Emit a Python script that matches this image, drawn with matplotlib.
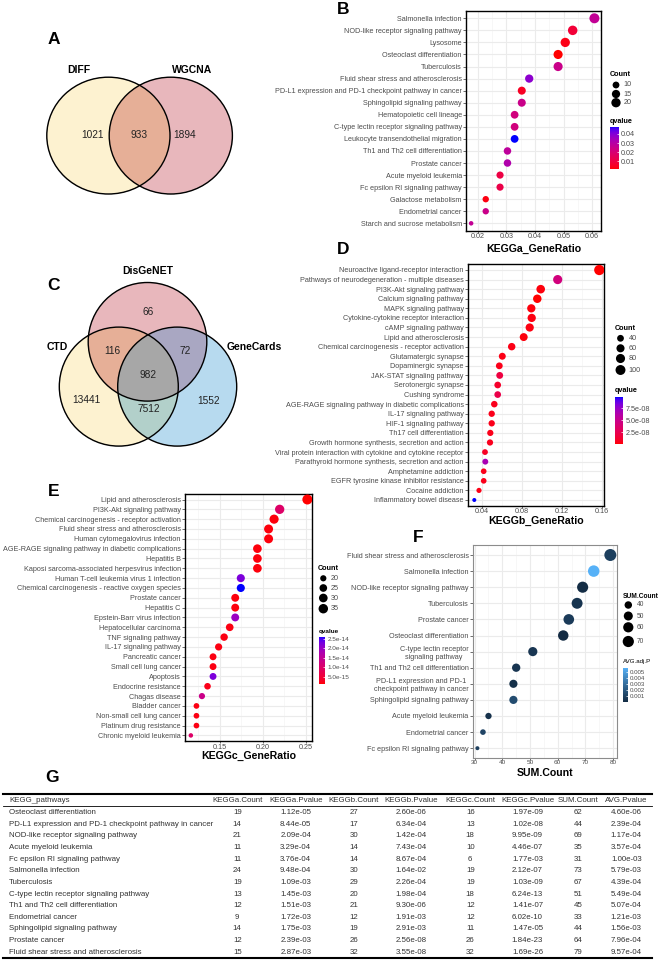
import numpy as np
import matplotlib
matplotlib.use('Agg')
import matplotlib.pyplot as plt
from matplotlib.colors import ListedColormap, Normalize, to_rgb, to_rgba
from matplotlib.cm import ScalarMappable
from matplotlib.patches import Ellipse

plt.rcParams['font.family'] = ['Liberation Sans', 'DejaVu Sans']

W, H = 664, 960

# ---- A: venn DIFF / WGCNA
venn_a_sets = ['DIFF', 'WGCNA']
venn_a_counts = [1021, 933, 1894]          # DIFF only, both, WGCNA only

# ---- C: venn DisGeNET / CTD / GeneCards
venn_c_sets = ['DisGeNET', 'CTD', 'GeneCards']
venn_c_counts = [66, 116, 72, 982, 13441, 7512, 1552]  # D, D&C, D&G, all, C, C&G, G

# ---- B: KEGGa
b_terms = ['Salmonella infection', 'NOD-like receptor signaling pathway', 'Lysosome',
           'Osteoclast differentiation', 'Tuberculosis', 'Fluid shear stress and atherosclerosis',
           'PD-L1 expression and PD-1 checkpoint pathway in cancer', 'Sphingolipid signaling pathway',
           'Hematopoietic cell lineage', 'C-type lectin receptor signaling pathway',
           'Leukocyte transendothelial migration', 'Th1 and Th2 cell differentiation',
           'Prostate cancer', 'Acute myeloid leukemia', 'Fc epsilon RI signaling pathway',
           'Galactose metabolism', 'Endometrial cancer', 'Starch and sucrose metabolism']
b_ratio = [0.0608, 0.0532, 0.0506, 0.0481, 0.0481, 0.0380, 0.0354, 0.0354, 0.0329,
           0.0329, 0.0329, 0.0304, 0.0304, 0.0278, 0.0278, 0.0228, 0.0228, 0.0177]
b_count = [24, 21, 20, 19, 19, 15, 14, 14, 13, 13, 13, 12, 12, 11, 11, 9, 9, 7]
b_q = [0.0268, 0.0079, 0.0027, 0.0008, 0.0245, 0.0386, 0.0046, 0.0245, 0.0221,
       0.0221, 0.0481, 0.0282, 0.0315, 0.0103, 0.0112, 0.0022, 0.0245, 0.0268]

# ---- D: KEGGb
d_terms = ['Neuroactive ligand-receptor interaction', 'Pathways of neurodegeneration - multiple diseases',
           'PI3K-Akt signaling pathway', 'Calcium signaling pathway', 'MAPK signaling pathway',
           'Cytokine-cytokine receptor interaction', 'cAMP signaling pathway', 'Lipid and atherosclerosis',
           'Chemical carcinogenesis - receptor activation', 'Glutamatergic synapse', 'Dopaminergic synapse',
           'JAK-STAT signaling pathway', 'Serotonergic synapse', 'Cushing syndrome',
           'AGE-RAGE signaling pathway in diabetic complications', 'IL-17 signaling pathway',
           'HIF-1 signaling pathway', 'Th17 cell differentiation',
           'Growth hormone synthesis, secretion and action',
           'Viral protein interaction with cytokine and cytokine receptor',
           'Parathyroid hormone synthesis, secretion and action', 'Amphetamine addiction',
           'EGFR tyrosine kinase inhibitor resistance', 'Cocaine addiction', 'Inflammatory bowel disease']
d_ratio = [0.1576, 0.1160, 0.0990, 0.0956, 0.0896, 0.0900, 0.0880, 0.0820, 0.0700, 0.0606,
           0.0576, 0.0580, 0.0560, 0.0560, 0.0526, 0.0500, 0.0500, 0.0486, 0.0483, 0.0433,
           0.0436, 0.0420, 0.0420, 0.0373, 0.0326]
d_count = [110, 81, 69, 67, 63, 63, 62, 57, 49, 42, 40, 41, 39, 39, 37, 35, 35, 34, 34, 30,
           31, 29, 29, 26, 23]
d_q = [0.0, 4.4e-8, 0.2e-8, 0.0, 0.2e-8, 0.3e-8, 0.3e-8, 0.2e-8, 0.4e-8, 0.4e-8, 0.5e-8,
       1.8e-8, 1.0e-8, 2.2e-8, 0.6e-8, 0.5e-8, 0.5e-8, 0.5e-8, 0.6e-8, 0.8e-8, 6.7e-8,
       0.5e-8, 0.5e-8, 0.4e-8, 9.8e-8]

# ---- E: KEGGc
e_terms = ['Lipid and atherosclerosis', 'PI3K-Akt signaling pathway',
           'Chemical carcinogenesis - receptor activation', 'Fluid shear stress and atherosclerosis',
           'Human cytomegalovirus infection', 'AGE-RAGE signaling pathway in diabetic complications',
           'Hepatitis B', 'Kaposi sarcoma-associated herpesvirus infection',
           'Human T-cell leukemia virus 1 infection', 'Chemical carcinogenesis - reactive oxygen species',
           'Prostate cancer', 'Hepatitis C', 'Epstein-Barr virus infection', 'Hepatocellular carcinoma',
           'TNF signaling pathway', 'IL-17 signaling pathway', 'Pancreatic cancer',
           'Small cell lung cancer', 'Apoptosis', 'Endocrine resistance', 'Chagas disease',
           'Bladder cancer', 'Non-small cell lung cancer', 'Platinum drug resistance',
           'Chronic myeloid leukemia']
e_ratio = [0.2516, 0.2194, 0.2129, 0.2065, 0.2065, 0.1935, 0.1935, 0.1935, 0.1742, 0.1742,
           0.1677, 0.1677, 0.1677, 0.1613, 0.1548, 0.1484, 0.1419, 0.1419, 0.1419, 0.1355,
           0.1290, 0.1226, 0.1226, 0.1226, 0.1161]
e_count = [39, 34, 33, 32, 32, 30, 30, 30, 27, 27, 26, 26, 26, 25, 24, 23, 22, 22, 22, 21,
           20, 19, 19, 19, 18]
e_q = [1.0e-15, 9.8e-15, 1.5e-15, 1.5e-15, 1.5e-15, 1.5e-15, 1.5e-15, 1.5e-15, 2.24e-14,
       2.62e-14, 1.5e-15, 1.5e-15, 1.99e-14, 1.8e-15, 1.8e-15, 1.8e-15, 1.8e-15, 1.8e-15,
       2.24e-14, 2.2e-15, 1.36e-14, 1.8e-15, 1.8e-15, 1.8e-15, 9.8e-15]

# ---- F: combined
f_terms = ['Fluid shear stress and atherosclerosis', 'Salmonella infection',
           'NOD-like receptor signaling pathway', 'Tuberculosis', 'Prostate cancer',
           'Osteoclast differentiation', 'C-type lectin receptor\nsignaling pathway',
           'Th1 and Th2 cell differentiation', 'PD-L1 expression and PD-1\ncheckpoint pathway in cancer',
           'Sphingolipid signaling pathway', 'Acute myeloid leukemia', 'Endometrial cancer',
           'Fc epsilon RI signaling pathway']
f_sum = [79, 73, 69, 67, 64, 62, 51, 45, 44, 44, 35, 33, 31]
f_avgp = [9.57e-4, 5.79e-3, 1.17e-4, 4.39e-4, 7.96e-4, 4.60e-6, 5.49e-4, 5.07e-4, 2.39e-4,
          1.56e-3, 3.57e-4, 1.21e-3, 1.00e-3]

# ---- G: table
g_headers = ['KEGG_pathways', 'KEGGa.Count', 'KEGGa.Pvalue', 'KEGGb.Count', 'KEGGb.Pvalue',
             'KEGGc.Count', 'KEGGc.Pvalue', 'SUM.Count', 'AVG.Pvalue']
g_pathways = ['Osteoclast differentiation', 'PD-L1 expression and PD-1 checkpoint pathway in cancer',
              'NOD-like receptor signaling pathway', 'Acute myeloid leukemia',
              'Fc epsilon RI signaling pathway', 'Salmonella infection', 'Tuberculosis',
              'C-type lectin receptor signaling pathway', 'Th1 and Th2 cell differentiation',
              'Endometrial cancer', 'Sphingolipid signaling pathway', 'Prostate cancer',
              'Fluid shear stress and atherosclerosis']
g_a_count = [19, 14, 21, 11, 11, 24, 19, 13, 12, 9, 14, 12, 15]
g_a_p = [1.12e-05, 8.44e-05, 2.09e-04, 3.29e-04, 3.76e-04, 9.48e-04, 1.09e-03, 1.45e-03,
         1.51e-03, 1.72e-03, 1.75e-03, 2.39e-03, 2.87e-03]
g_b_count = [27, 17, 30, 14, 14, 30, 29, 20, 21, 12, 19, 26, 32]
g_b_p = [2.60e-06, 6.34e-04, 1.42e-04, 7.43e-04, 8.67e-04, 1.64e-02, 2.26e-04, 1.98e-04,
         9.30e-06, 1.91e-03, 2.91e-03, 2.56e-08, 3.55e-08]
g_c_count = [16, 13, 18, 10, 6, 19, 19, 18, 12, 12, 11, 26, 32]
g_c_p = [1.97e-09, 1.02e-08, 9.95e-09, 4.46e-07, 1.77e-03, 2.12e-07, 1.03e-09, 6.24e-13,
         1.41e-07, 6.02e-10, 1.47e-05, 1.84e-23, 1.69e-26]
g_sum = [62, 44, 69, 35, 31, 73, 67, 51, 45, 33, 44, 64, 79]
g_avg_p = [4.60e-06, 2.39e-04, 1.17e-04, 3.57e-04, 1.00e-03, 5.79e-03, 4.39e-04, 5.49e-04,
           5.07e-04, 1.21e-03, 1.56e-03, 7.96e-04, 9.57e-04]

TXT = '#4D4D4D'
FS = 5.2


def rgb2lab(col):
    rgb = np.array(to_rgb(col))
    lin = np.where(rgb <= 0.04045, rgb / 12.92, ((rgb + 0.055) / 1.055) ** 2.4)
    M = np.array([[0.4124, 0.3576, 0.1805], [0.2126, 0.7152, 0.0722], [0.0193, 0.1192, 0.9505]])
    xyz = M @ lin / np.array([0.95047, 1.0, 1.08883])
    f = np.where(xyz > (6 / 29) ** 3, np.cbrt(xyz), xyz / (3 * (6 / 29) ** 2) + 4 / 29)
    return np.array([116 * f[1] - 16, 500 * (f[0] - f[1]), 200 * (f[1] - f[2])])


def lab2rgb(lab):
    fy = (lab[:, 0] + 16) / 116
    f = np.stack([fy + lab[:, 1] / 500, fy, fy - lab[:, 2] / 200], 1)
    xyz = np.where(f > 6 / 29, f ** 3, 3 * (6 / 29) ** 2 * (f - 4 / 29)) * np.array([0.95047, 1.0, 1.08883])
    Minv = np.array([[3.2406, -1.5372, -0.4986], [-0.9689, 1.8758, 0.0415], [0.0557, -0.2040, 1.0570]])
    lin = np.clip(xyz @ Minv.T, 0, 1)
    return np.clip(np.where(lin <= 0.0031308, 12.92 * lin, 1.055 * lin ** (1 / 2.4) - 0.055), 0, 1)


def lab_cmap(c0, c1):
    # ggplot style gradient, interpolated in Lab
    l0, l1 = rgb2lab(c0), rgb2lab(c1)
    t = np.linspace(0, 1, 256)[:, None]
    return ListedColormap(lab2rgb(l0 + (l1 - l0) * t))


def dot_size(c, cmin, cmax, dmin, dmax):
    c = np.asarray(c, float)
    d = dmin + (dmax - dmin) * np.sqrt((c - cmin) / (cmax - cmin))
    return (d * 0.72) ** 2


fig = plt.figure(figsize=(W / 100, H / 100), dpi=100)
ov = fig.add_axes([0, 0, 1, 1])
ov.axis('off')


def venn(shapes, fills, box):
    x0, x1, y0, y1 = box
    X, Y = np.meshgrid(np.arange(x0, x1, 0.25) + 0.125, np.arange(y0, y1, 0.25) + 0.125)
    code = np.zeros(X.shape, int)
    for i, (cx, cy, rx, ry) in enumerate(shapes):
        code += (((X - cx) / rx) ** 2 + ((Y - cy) / ry) ** 2 <= 1).astype(int) << i
    lut = np.zeros((2 ** len(shapes), 4))
    for k, col in fills.items():
        lut[k] = to_rgba(col)
    ov.imshow(lut[code], extent=(x0, x1, y1, y0), aspect='auto', zorder=1)
    for cx, cy, rx, ry in shapes:
        ov.add_patch(Ellipse((cx, cy), 2 * rx, 2 * ry, fill=False, ec='black', lw=1.0, zorder=2))


PINK, CREAM, BLUE = '#E8B8BC', '#FEF2D0', '#B8DAF0'

# A
venn([(108.4, 135.6, 61.6, 58.4), (170.8, 135.6, 61.6, 58.4)],
     {1: CREAM, 2: PINK, 3: '#E6AF97'}, (40, 240, 70, 200))
ov.text(79, 70, venn_a_sets[0], fontsize=7.5, fontweight='bold', ha='center', va='center')
ov.text(192, 70, venn_a_sets[1], fontsize=7.5, fontweight='bold', ha='center', va='center')
for (x, y), n in zip([(92.5, 135.5), (139.5, 135.5), (185, 135.5)], venn_a_counts):
    ov.text(x, y, str(n), fontsize=7.3, ha='center', va='center', color='#222222')

# C
venn([(147.5, 341.8, 59.3, 59.3), (118.8, 386.6, 59.5, 59.5), (177.2, 386.6, 59.5, 59.5)],
     {1: PINK, 2: CREAM, 4: BLUE, 3: '#E6AF97', 5: '#A9A8C3', 6: '#B2D0CA', 7: '#A7A7A7'},
     (55, 241, 278, 450))
ov.text(148, 271, venn_c_sets[0], fontsize=7.5, fontweight='bold', ha='center', va='center')
ov.text(57, 347.5, venn_c_sets[1], fontsize=7.5, fontweight='bold', ha='center', va='center')
ov.text(254, 347.5, venn_c_sets[2], fontsize=7.5, fontweight='bold', ha='center', va='center')
for (x, y), n in zip([(148.5, 312), (112.5, 351.5), (185, 351.5), (148, 374.5),
                      (86, 400), (148.5, 409), (208.5, 401.5)], venn_c_counts):
    ov.text(x, y, str(n), fontsize=7.3, ha='center', va='center', color='#222222')

qcmap = lab_cmap('#FF0000', '#0000FF')
fcmap = lab_cmap('#132B43', '#56B1F7')


def dot_panel(terms, xs, counts, cvals, cmap, norm, left, right, y_first, step,
              xlim, xticks, xlabels, srange, border='black', xfs=FS, label=None, label_y=None):
    n = len(terms)
    top = y_first - 0.6 * step
    bottom = y_first + (n - 1) * step + 0.6 * step
    ax = fig.add_axes([left / W, 1 - bottom / H, (right - left) / W, (bottom - top) / H])
    ax.set_xlim(*xlim)
    ax.set_ylim(n - 1 + 0.6, -0.6)
    ax.set_xticks(xticks)
    ax.set_xticklabels(xlabels)
    xt = np.asarray(xticks, float)
    d = xt[1] - xt[0]
    minor = [m for m in np.arange(xt[0] - d / 2, xt[-1] + d, d) if xlim[0] < m < xlim[1]]
    ax.set_xticks(minor, minor=True)
    ax.set_yticks(range(n))
    ax.set_yticklabels(terms, fontsize=FS, color=TXT, multialignment='center')
    ax.tick_params(axis='x', which='major', labelsize=xfs, labelcolor=TXT, length=1.5, width=0.5,
                   color='#333333', pad=0.3)
    ax.tick_params(axis='y', length=2, width=0.5, color='#333333', pad=1)
    ax.tick_params(which='minor', length=0)
    ax.grid(which='major', color='#EBEBEB', lw=0.8)
    ax.grid(which='minor', axis='x', color='#F2F2F2', lw=0.4)
    ax.set_axisbelow(True)
    for sp in ax.spines.values():
        sp.set_color(border)
        sp.set_linewidth(1.0 if border == 'black' else 0.8)
    cmin, cmax = min(counts), max(counts)
    ax.scatter(xs, range(n), s=dot_size(counts, cmin, cmax, *srange), c=cvals, cmap=cmap,
               norm=norm, edgecolors='none', zorder=3)
    ov.text((left + right) / 2, label_y, label, fontsize=7.6, fontweight='bold',
            ha='center', va='center')
    return ax


def size_legend(title, x_title, y_title, x_dot, x_lab, breaks, ys, counts, srange, fs=FS):
    ov.text(x_title, y_title, title, fontsize=fs, fontweight='bold', ha='left', va='center')
    ov.scatter([x_dot] * len(breaks), ys, s=dot_size(breaks, min(counts), max(counts), *srange),
               c='black', edgecolors='none', zorder=3)
    for b, y in zip(breaks, ys):
        ov.text(x_lab, y, str(b), fontsize=fs, color=TXT, ha='left', va='center')


def color_bar(title, x0, x1, y0, y1, title_y, cmap, norm, ticks, labels, fs=FS, bold=True):
    cax = fig.add_axes([x0 / W, 1 - y1 / H, (x1 - x0) / W, (y1 - y0) / H])
    cb = fig.colorbar(ScalarMappable(norm=norm, cmap=cmap), cax=cax)
    cb.outline.set_visible(False)
    cb.set_ticks(ticks)
    cb.set_ticklabels(labels)
    cax.tick_params(length=1.5, width=0.5, color='white', direction='in', labelsize=fs,
                    labelcolor=TXT, pad=1.5)
    ov.text(x0, title_y, title, fontsize=fs, fontweight='bold' if bold else 'normal',
            ha='left', va='center')


# B
bn = Normalize(min(b_q), max(b_q))
b_s = (4.5, 10)
dot_panel(b_terms, b_ratio, b_count, b_q, qcmap, bn, 466, 601, 18.3, 12.06,
          (0.0159, 0.0631), [0.02, 0.03, 0.04, 0.05, 0.06], ['0.02', '0.03', '0.04', '0.05', '0.06'],
          b_s, label='KEGGa_GeneRatio', label_y=249)
size_legend('Count', 609.5, 75, 616, 623.5, [10, 15, 20], [85, 94, 102.7], b_count, b_s)
color_bar('qvalue', 609.5, 618.5, 126.7, 169.3, 121.5, qcmap, bn,
          [0.01, 0.02, 0.03, 0.04], ['0.01', '0.02', '0.03', '0.04'])

# D
dn = Normalize(min(d_q), max(d_q))
d_s = (4.0, 10.3)
dot_panel(d_terms, d_ratio, d_count, d_q, qcmap, dn, 468, 604, 270, 9.583,
          (0.0263, 0.1623), [0.04, 0.08, 0.12, 0.16], ['0.04', '0.08', '0.12', '0.16'],
          d_s, label='KEGGb_GeneRatio', label_y=521)
size_legend('Count', 615, 329, 620.5, 628.5, [40, 60, 80, 100], [338.3, 348.3, 358.5, 370],
            d_count, d_s)
color_bar('qvalue', 615, 623.3, 397.3, 444.3, 391, qcmap, dn,
          [2.5e-8, 5.0e-8, 7.5e-8], ['2.5e-08', '5.0e-08', '7.5e-08'])

# E
en = Normalize(min(e_q), max(e_q))
e_s = (4.5, 10)
dot_panel(e_terms, e_ratio, e_count, e_q, qcmap, en, 185, 312, 499.5, 9.83,
          (0.1093, 0.257), [0.15, 0.20, 0.25], ['0.15', '0.20', '0.25'],
          e_s, label='KEGGc_GeneRatio', label_y=756)
size_legend('Count', 318, 568, 323.3, 331, [20, 25, 30, 35], [578.3, 588, 598, 608.7], e_count, e_s)
color_bar('qvalue', 318.6, 325.4, 636.7, 684.3, 631, qcmap, en,
          [5e-15, 1e-14, 1.5e-14, 2e-14, 2.5e-14],
          ['5.0e-15', '1.0e-14', '1.5e-14', '2.0e-14', '2.5e-14'], fs=4.6)

# F
fn = Normalize(min(f_avgp), max(f_avgp))
f_s = (4.0, 12)
dot_panel(f_terms, f_sum, f_sum, f_avgp, fcmap, fn, 472.7, 616.7, 555, 16.1,
          (29.3, 81.3), [30, 40, 50, 60, 70, 80], ['30', '40', '50', '60', '70', '80'],
          f_s, border='#8C8C8C', xfs=4.6, label='SUM.Count', label_y=772.5)
size_legend('SUM.Count', 623, 596, 628.3, 636.5, [40, 50, 60, 70], [605, 616, 627.3, 641.5],
            f_sum, f_s, fs=4.8)
color_bar('AVG.adj.P', 623, 628, 667.7, 702.3, 661, fcmap, fn,
          [0.001, 0.002, 0.003, 0.004, 0.005], ['0.001', '0.002', '0.003', '0.004', '0.005'],
          fs=4.4, bold=False)

# panel letters
for lab, x, y in [('A', 54, 40), ('B', 343, 9), ('C', 54, 285), ('D', 343, 250),
                  ('E', 54, 492), ('F', 418, 537), ('G', 52, 778)]:
    ov.text(x, y, lab, fontsize=12.5, fontweight='bold', ha='center', va='center')

# G table
col_x = [9.3, 237.3, 295.8, 353.8, 411, 470.3, 527.5, 578.4, 626.3]
ov.plot([3, 652], [794, 794], color='black', lw=1.5)
ov.plot([3, 652], [805.5, 805.5], color='black', lw=0.6)
ov.plot([3, 652], [957.5, 957.5], color='black', lw=1.5)
for j, h in enumerate(g_headers):
    ov.text(col_x[j], 800.2, h, fontsize=5.7, color='#333333', va='center',
            ha='left' if j == 0 else 'center')
cols = [g_pathways, g_a_count, g_a_p, g_b_count, g_b_p, g_c_count, g_c_p, g_sum, g_avg_p]
for i in range(len(g_pathways)):
    y = 812.7 + i * 11.63
    for j, col in enumerate(cols):
        v = col[i]
        s = v if isinstance(v, str) else (str(v) if isinstance(v, int) else '%.2e' % v)
        ov.text(col_x[j], y, s, fontsize=5.7, color='#333333', va='center',
                ha='left' if j == 0 else 'center')

ov.set_xlim(0, W)
ov.set_ylim(H, 0)
fig.savefig('out.png', dpi=100)
